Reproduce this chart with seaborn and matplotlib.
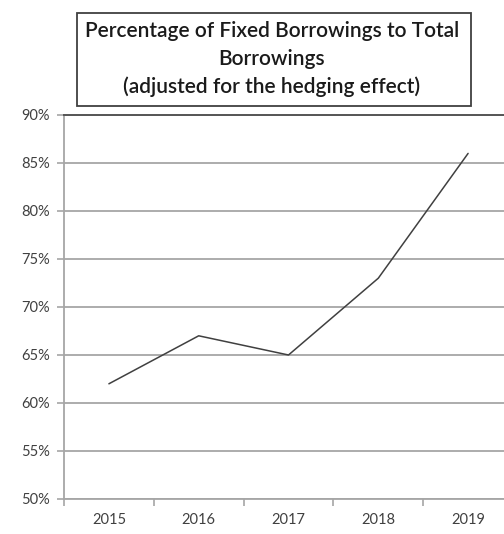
import matplotlib
matplotlib.use("Agg")
import matplotlib.pyplot as plt
import seaborn as sns
import pandas as pd
from matplotlib.ticker import FixedLocator, NullFormatter
from matplotlib.patches import Rectangle

years = ["2015", "2016", "2017", "2018", "2019"]
values = [62, 67, 65, 73, 86]
yticks = [50, 55, 60, 65, 70, 75, 80, 85, 90]
title_lines = ["Percentage of Fixed Borrowings to Total", "Borrowings", "(adjusted for the hedging effect)"]

sns.set_theme(style="white")
plt.rcParams['font.family'] = ['Lato', 'DejaVu Sans']

fig = plt.figure(figsize=(5.04, 5.34), dpi=100)
ax = fig.add_axes([64/504, 1-499/534, (513-64)/504, (499-115)/534])

df = pd.DataFrame({"year": years, "value": values})
sns.lineplot(data=df, x="year", y="value", ax=ax, color="#404040", linewidth=1.1, sort=False)

ax.set_xlim(-0.5, 4.5)
ax.set_ylim(50, 90)
ax.set_yticks(yticks)
ax.set_yticklabels([f"{v}%" for v in yticks])
ax.set_xticks(range(len(years)))
ax.set_xticklabels(years)
ax.xaxis.set_minor_locator(FixedLocator([i - 0.5 for i in range(len(years) + 1)]))
ax.xaxis.set_minor_formatter(NullFormatter())
ax.tick_params(axis='x', which='major', length=0, pad=10, labelsize=10.5, labelcolor="#404040")
ax.tick_params(axis='x', which='minor', length=5, width=1.2, color="#a6a6a6", bottom=True)
ax.tick_params(axis='y', which='major', length=5, width=1.2, color="#a6a6a6", left=True, pad=5,
               labelsize=10.5, labelcolor="#404040")
ax.set_xlabel("")
ax.set_ylabel("")
ax.grid(axis='y', color="#a6a6a6", linewidth=1.3)
ax.set_axisbelow(True)
ax.spines["right"].set_visible(False)
ax.spines["top"].set_color("#555555")
ax.spines["top"].set_linewidth(1.4)
for s in ["left", "bottom"]:
    ax.spines[s].set_color("#a6a6a6")
    ax.spines[s].set_linewidth(1.3)

# title box
fig.patches.append(Rectangle((77/504, 1-106/534), (471-77)/504, (106-13)/534,
                             transform=fig.transFigure, facecolor="white",
                             edgecolor="#404040", linewidth=1.3, zorder=5))
for line, ypix in zip(title_lines, [31, 59, 87]):
    fig.text(272/504, 1-ypix/534, line, ha="center", va="center", fontsize=15,
             fontweight="semibold", color="#1a1a1a", zorder=6)

fig.savefig("out.png", dpi=100)
